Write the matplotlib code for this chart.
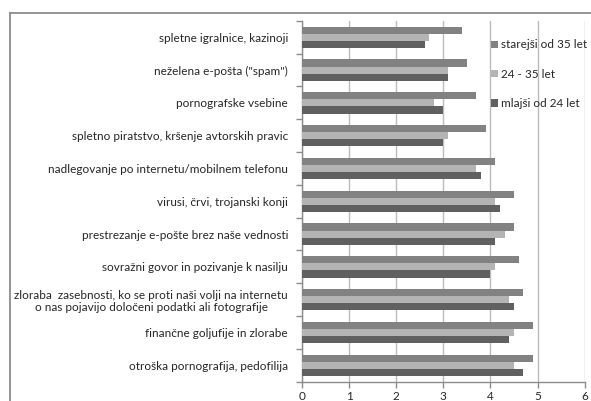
import matplotlib
matplotlib.use("Agg")
import matplotlib.pyplot as plt
import numpy as np
from matplotlib.lines import Line2D

plt.rcParams['font.family'] = ['Lato', 'DejaVu Sans']

# categories bottom -> top
categories = [
    "otroška pornografija, pedofilija",
    "finančne goljufije in zlorabe",
    "zloraba  zasebnosti, ko se proti naši volji na internetu\no nas pojavijo določeni podatki ali fotografije",
    "sovražni govor in pozivanje k nasilju",
    "prestrezanje e-pošte brez naše vednosti",
    "virusi, črvi, trojanski konji",
    "nadlegovanje po internetu/mobilnem telefonu",
    "spletno piratstvo, kršenje avtorskih pravic",
    "pornografske vsebine",
    "neželena e-pošta (\"spam\")",
    "spletne igralnice, kazinoji",
]
mlajsi = [4.7, 4.4, 4.5, 4.0, 4.1, 4.2, 3.8, 3.0, 3.0, 3.1, 2.6]
srednji = [4.5, 4.5, 4.4, 4.1, 4.3, 4.1, 3.7, 3.1, 2.8, 3.1, 2.7]
starejsi = [4.9, 4.9, 4.7, 4.6, 4.5, 4.5, 4.1, 3.9, 3.7, 3.5, 3.4]
series_labels = ["mlajši od 24 let", "24 - 35 let", "starejši od 35 let"]
colors = ["#606060", "#b4b4b4", "#828282"]
xticks = [0, 1, 2, 3, 4, 5, 6]

fig = plt.figure(figsize=(5.91, 4.01), dpi=100)
ax = fig.add_axes([302/591, 1 - 381.7/401, (584.7 - 302)/591, (381.7 - 20.9)/401])

y = np.arange(len(categories))
h = 0.217
handles = []
for i, (vals, lab, col) in enumerate(zip([mlajsi, srednji, starejsi], series_labels, colors)):
    b = ax.barh(y + (i - 1) * h, vals, height=h, color=col, label=lab, zorder=3)
    handles.append(b)

ax.set_xlim(0, 6)
ax.set_ylim(-0.5, len(categories) - 0.5)
ax.set_xticks(xticks)
ax.set_xticklabels([str(t) for t in xticks])
ax.set_yticks(y)
ax.set_yticklabels(categories)
for t in ax.get_yticklabels():
    t.set_multialignment('center')
ax.set_yticks(np.arange(len(categories) + 1) - 0.5, minor=True)
ax.tick_params(axis='y', which='major', length=0, pad=10, labelsize=8.5, labelcolor='#262626')
ax.tick_params(axis='y', which='minor', length=4, width=1, color='#8c8c8c', direction='out')
ax.tick_params(axis='x', length=4, width=1, color='#8c8c8c', pad=3, labelsize=8.5, labelcolor='#262626')

ax.grid(axis='x', color='#bcbcbc', linewidth=1, zorder=0)
for s in ['top', 'right']:
    ax.spines[s].set_visible(False)
for s in ['left', 'bottom']:
    ax.spines[s].set_color('#8c8c8c')
    ax.spines[s].set_linewidth(1)

leg = ax.legend(handles[::-1], series_labels[::-1], loc='upper left',
                bbox_to_anchor=(491/591, 1 - 39.5/401), bbox_transform=fig.transFigure,
                frameon=False, fontsize=8.5, handlelength=0.6, handleheight=0.6,
                handletextpad=0.25, labelspacing=1.55, borderaxespad=0, borderpad=0)
for t in leg.get_texts():
    t.set_color('#262626')

# outer chart frame (partly cropped)
fig.add_artist(Line2D([10/591, 10/591], [0, 1 - 12.7/401], transform=fig.transFigure,
                      color='#8c8c8c', linewidth=1.3))
fig.add_artist(Line2D([10/591, 1], [1 - 12.7/401, 1 - 12.7/401], transform=fig.transFigure,
                      color='#8c8c8c', linewidth=1.3))

fig.savefig("out.png", dpi=100)
